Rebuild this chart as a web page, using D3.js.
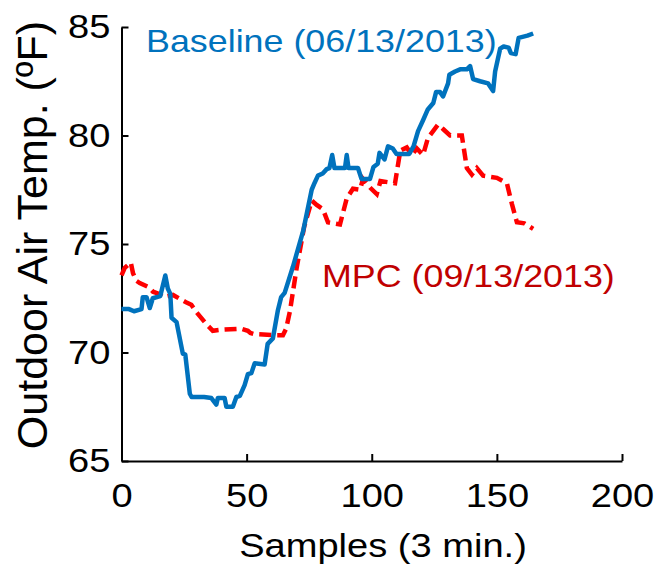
<!DOCTYPE html>
<html>
<head>
<meta charset="utf-8">
<script src="https://cdn.jsdelivr.net/npm/d3@7"></script>
<style>
  body { margin: 0; background: #fff; }
  text { font-family: "Liberation Sans", Arial, sans-serif; }
</style>
</head>
<body>
<svg></svg>
<script>
// sample index / temperature pairs
var baselineSamples = [0, 3, 5, 8, 8.5, 10, 11.3, 12.5, 15.5, 17.5, 18.5, 19.5, 20, 22, 24.5, 25.5, 27.3, 28, 33, 35.9, 37.9, 38.5, 41.2, 41.9, 44.5, 45.9, 47.3, 49.2, 50.5, 51.9, 53.2, 57.2, 58.4, 60.5, 62.5, 63.8, 65.2, 68.5, 72.6, 76, 77.1, 78.5, 80.4, 82, 83.1, 84.2, 85.1, 89.3, 90, 90.7, 94.5, 95.9, 99.3, 100.7, 102.4, 103.1, 105.1, 106.5, 108.4, 109.9, 113, 115, 116.7, 118.5, 120.5, 122.4, 124.6, 125.7, 127.3, 128.5, 130.5, 131, 133.3, 135.3, 138, 139.3, 140.5, 143.3, 146.5, 148.5, 149.3, 151.3, 152.7, 154.7, 155.6, 157.5, 158.7, 162.2, 164.5];
var baselineTemps = [72.0, 72.0, 71.9, 72.0, 72.55, 72.55, 72.05, 72.5, 72.6, 73.55, 72.95, 72.7, 71.6, 71.4, 69.95, 69.9, 68.1, 67.95, 67.95, 67.9, 67.6, 67.9, 67.9, 67.5, 67.5, 67.95, 68.0, 68.5, 69.0, 69.05, 69.5, 69.45, 70.4, 70.65, 71.95, 72.55, 72.75, 73.95, 75.6, 77.5, 77.8, 78.15, 78.25, 78.45, 78.5, 79.1, 78.5, 78.5, 79.1, 78.5, 78.5, 78.0, 78.0, 78.55, 78.7, 79.2, 78.9, 79.5, 79.4, 79.15, 79.15, 79.15, 79.5, 80.2, 80.7, 81.2, 81.5, 82.0, 82.0, 81.8, 82.4, 82.8, 82.95, 83.05, 83.05, 83.2, 82.6, 82.5, 82.4, 82.05, 82.95, 84.0, 84.1, 84.05, 83.8, 83.75, 84.5, 84.6, 84.7];

var mpcSamples = [0, 1.3, 3.7, 4.6, 6, 7.3, 11, 12.6, 15, 16.6, 20.6, 26, 27.9, 30, 34, 36.5, 40, 47.8, 50.5, 51.5, 53, 61.8, 64.5, 65.8, 67.3, 70, 73, 76, 78, 80.5, 82.5, 87.3, 90, 92.5, 95.3, 96.5, 99.3, 102, 103.5, 109.3, 111.4, 114, 116, 118, 120.5, 122.5, 126.5, 128.5, 131.3, 136, 138, 140, 142, 144.5, 150, 154, 156, 158, 161, 164.5];
var mpcTemps = [73.55, 73.9, 74.15, 73.65, 73.3, 73.2, 73.0, 72.8, 72.7, 72.55, 72.65, 72.3, 72.2, 71.85, 71.3, 71.0, 71.05, 71.1, 71.0, 70.9, 70.85, 70.8, 70.8, 71.1, 71.9, 73.9, 75.8, 77.0, 76.8, 76.6, 76.0, 75.9, 77.1, 77.55, 77.5, 78.0, 77.6, 77.3, 77.9, 77.8, 79.3, 79.45, 79.1, 79.4, 79.1, 79.9, 80.5, 80.3, 80.0, 80.0, 78.5, 78.2, 78.5, 78.15, 78.05, 77.8, 76.85, 76.0, 75.95, 75.7];

var xTicks = [0, 50, 100, 150, 200];
var yTicks = [65, 70, 75, 80, 85];
var baselineLabel = 'Baseline (06/13/2013)';
var mpcLabel = 'MPC (09/13/2013)';
var xTitle = 'Samples (3 min.)';
var yTitle = 'Outdoor Air Temp. (\u00baF)';

var width = 667;
var height = 565;
var sx = 1.12; // the original figure is a bit wider than tall, text included
var blue = '#0072bd';

var svg = d3.select('svg')
            .attr('width', width)
            .attr('height', height);

var xScale = d3.scaleLinear()
               .domain([0, 200])
               .range([121.5, 622]);

var yScale = d3.scaleLinear()
               .domain([65, 85])
               .range([461, 27]);

var xAxis = svg.append('g')
    .attr('transform', 'translate(0,' + yScale(65) + ')')
    .call(d3.axisBottom(xScale).tickValues(xTicks).tickSize(-7).tickPadding(22).tickSizeOuter(0));

var yAxis = svg.append('g')
    .attr('transform', 'translate(' + xScale(0) + ',0)')
    .call(d3.axisLeft(yScale).tickValues(yTicks).tickSize(-7).tickPadding(10).tickSizeOuter(0));

[xAxis, yAxis].forEach(function(ax) {
  ax.select('.domain').attr('stroke', '#000').attr('stroke-width', 2);
  ax.selectAll('.tick line').attr('stroke', '#000').attr('stroke-width', 2);
  ax.selectAll('.tick text')
      .attr('fill', '#000')
      .style('font-size', '34px')
      .attr('transform', 'scale(' + sx + ',1)');
});

var line = d3.line()
             .x(d => xScale(d[0]))
             .y(d => yScale(d[1]));

var mpcData = mpcSamples.map((s, i) => [s, mpcTemps[i]]);
var baselineData = baselineSamples.map((s, i) => [s, baselineTemps[i]]);

svg.append('path')
    .datum(mpcData)
    .attr('d', line)
    .attr('fill', 'none')
    .attr('stroke', '#ff0000')
    .attr('stroke-width', 4.5)
    .attr('stroke-dasharray', '12,6');

svg.append('path')
    .datum(baselineData)
    .attr('d', line)
    .attr('fill', 'none')
    .attr('stroke', blue)
    .attr('stroke-width', 4.5)
    .attr('stroke-linejoin', 'round');

svg.append('text')
    .text(baselineLabel)
    .attr('transform', 'translate(146,52) scale(' + sx + ',1)')
    .attr('fill', blue)
    .style('font-size', '32px');

svg.append('text')
    .text(mpcLabel)
    .attr('transform', 'translate(322,287) scale(' + sx + ',1)')
    .attr('fill', '#c00000')
    .style('font-size', '32px');

svg.append('text')
    .text(xTitle)
    .attr('transform', 'translate(383,557) scale(' + sx + ',1)')
    .attr('text-anchor', 'middle')
    .attr('fill', '#000')
    .style('font-size', '34px');

svg.append('text')
    .text(yTitle)
    .attr('transform', 'translate(47,235) rotate(-90)')
    .attr('text-anchor', 'middle')
    .attr('fill', '#000')
    .style('font-size', '43px');
</script>
</body>
</html>
